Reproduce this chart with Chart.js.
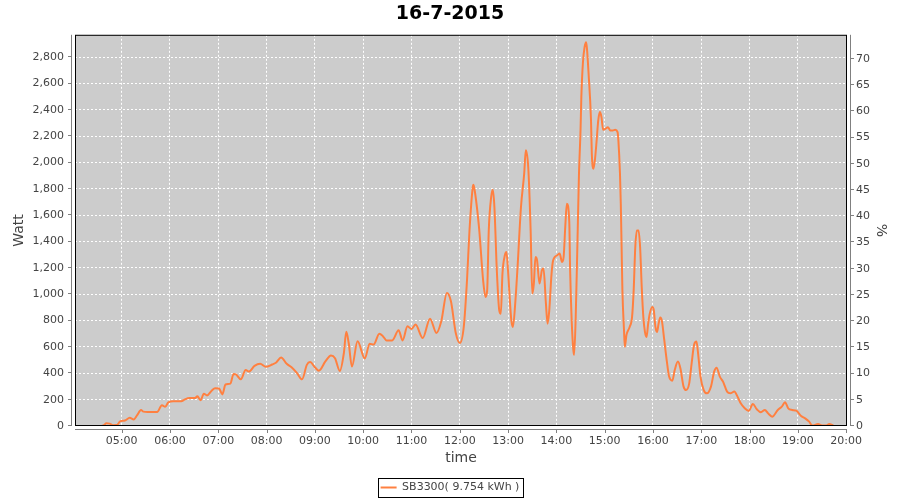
<!DOCTYPE html>
<html>
<head>
<meta charset="utf-8">
<title>16-7-2015</title>
<script src="https://cdn.jsdelivr.net/npm/chart.js@4.4.0/dist/chart.umd.min.js"></script>
<style>
    html, body { margin: 0; padding: 0; background: #fff; }
</style>
</head>
<body>
<canvas id="myChart" width="900" height="500"></canvas>
<script>
const chartTitle = "16-7-2015";
const seriesName = "SB3300( 9.754 kWh )";

// sample times (hh:mm) and power in Watt, grouped by hour
const times = [
    "04:19","04:25","04:32","04:38","04:41","04:45","04:49","04:54","04:58",
    "05:04","05:10","05:15","05:19","05:24","05:27","05:32","05:38","05:44","05:50","05:54","05:58",
    "06:04","06:14","06:18","06:24","06:31","06:34","06:38","06:42","06:46","06:52","06:56",
    "07:01","07:05","07:09","07:15","07:19","07:22","07:28","07:34","07:38","07:45","07:52","07:59",
    "08:07","08:12","08:18","08:25","08:31","08:38","08:44","08:50","08:54",
    "09:00","09:05","09:13","09:20","09:25","09:31","09:36","09:39","09:42","09:46","09:53",
    "10:02","10:08","10:13","10:20","10:24","10:29","10:36","10:44","10:49","10:55",
    "11:00","11:05","11:14","11:23","11:31","11:37","11:44","11:49","11:55",
    "12:00","12:05","12:09","12:12","12:16","12:17","12:19","12:24","12:29","12:32","12:34","12:36","12:39","12:41","12:43","12:46","12:49","12:51","12:53","12:56","12:58",
    "13:00","13:04","13:06","13:09","13:12","13:16","13:20","13:22","13:25","13:28","13:30","13:32","13:34","13:36","13:39","13:42","13:44","13:47","13:49","13:51","13:54","13:56",
    "14:01","14:04","14:07","14:09","14:11","14:13","14:16","14:17","14:19","14:21","14:22","14:24","14:26","14:28","14:30","14:31","14:33","14:35","14:37","14:38","14:40","14:43","14:44","14:46","14:48","14:50","14:52","14:54","14:56","14:58",
    "15:01","15:04","15:07","15:10","15:13","15:16","15:17","15:19","15:20","15:21","15:22","15:24","15:25","15:27","15:31","15:34","15:36","15:38","15:40","15:42","15:44","15:46","15:48","15:50","15:52","15:54","15:56","15:59",
    "16:01","16:03","16:05","16:07","16:09","16:11","16:14","16:17","16:20","16:24","16:27","16:31","16:34","16:38","16:41","16:45","16:48","16:51","16:54","16:56","16:59",
    "17:03","17:07","17:12","17:16","17:19","17:23","17:27","17:32","17:36","17:41","17:45","17:49","17:54","17:59",
    "18:04","18:09","18:14","18:19","18:23","18:28","18:35","18:40","18:44","18:48","18:53","18:58",
    "19:04","19:09","19:14","19:18","19:25","19:31","19:35","19:39","19:44"
];
const watts = [
    0,0,0,7,20,18,6,7,35,
    42,62,50,80,121,109,106,106,106,158,146,180,
    188,188,200,212,212,225,195,245,232,270,287,
    285,240,315,322,395,392,354,426,413,456,472,449,
    467,482,520,472,446,400,354,464,485,
    446,420,490,536,515,418,554,715,630,451,644,
    512,625,618,700,686,650,650,726,650,757,
    737,770,668,815,706,795,1010,947,706,
    630,757,1111,1478,1807,1832,1769,1500,1106,980,1030,1486,1739,1794,1663,1182,879,853,1157,1296,1321,
    1170,803,752,942,1233,1663,1916,2093,1966,1486,1005,1081,1283,1258,1081,1182,1195,929,777,866,1157,1258,
    1296,1309,1245,1283,1511,1688,1550,1200,800,580,540,828,1350,1900,2250,2500,2762,2876,2914,2863,2674,2320,2067,1953,2029,2168,2320,2383,2345,2249,
    2256,2269,2244,2244,2249,2231,2168,1915,1688,1359,1030,727,601,690,752,828,1030,1359,1485,1485,1359,1056,828,714,676,778,853,904,
    879,752,714,778,823,800,653,501,375,344,425,489,438,299,273,324,476,615,641,552,375,
    273,248,299,413,443,375,337,261,248,261,223,172,134,114,
    167,127,104,122,96,71,122,147,180,134,122,116,
    76,58,33,3,15,3,3,15,3
];

const hourTicks = ["05:00","06:00","07:00","08:00","09:00","10:00","11:00","12:00",
                   "13:00","14:00","15:00","16:00","17:00","18:00","19:00","20:00"];
const wattTicks = [0,200,400,600,800,1000,1200,1400,1600,1800,2000,2200,2400,2600,2800];
const percentTicks = [0,5,10,15,20,25,30,35,40,45,50,55,60,65,70];
const timeRange = ["04:02","20:01"];
const wattMax = 2970;
const percentMax = 74.6;

const lineColor = "rgb(255,128,64)";
const textColor = "#444444";
const fontFamily = "'DejaVu Sans', sans-serif";

function toMin(s) {
    let p = s.split(":");
    return parseInt(p[0]) * 60 + parseInt(p[1]);
}
function minLabel(v) {
    let h = Math.floor(v / 60), m = v % 60;
    return (h < 10 ? "0" : "") + h + ":" + (m < 10 ? "0" : "") + m;
}

// grey plot background, black outline, offset grey axis lines, legend frame
const frame = {
    id: "frame",
    afterLayout(chart) {
        chart.legend.top += 3;
        chart.legend.bottom += 3;
    },
    beforeDraw(chart) {
        let ctx = chart.ctx, a = chart.chartArea;
        ctx.save();
        ctx.fillStyle = "#cccccc";
        ctx.fillRect(a.left, a.top, a.right - a.left, a.bottom - a.top);
        ctx.restore();
    },
    afterDraw(chart) {
        let ctx = chart.ctx, a = chart.chartArea, s = chart.scales;
        ctx.save();
        ctx.strokeStyle = "#000";
        ctx.lineWidth = 1;
        ctx.strokeRect(a.left + 0.5, a.top + 0.5, a.right - a.left - 1, a.bottom - a.top - 1);

        ctx.strokeStyle = "#808080";
        ctx.beginPath();
        // left axis
        ctx.moveTo(a.left - 3.5, a.top);
        ctx.lineTo(a.left - 3.5, a.bottom);
        wattTicks.forEach(function(v) {
            let y = Math.round(s.y.getPixelForValue(v)) - 0.5;
            ctx.moveTo(a.left - 3.5, y);
            ctx.lineTo(a.left - 7, y);
        });
        // right axis
        ctx.moveTo(a.right + 3.5, a.top);
        ctx.lineTo(a.right + 3.5, a.bottom);
        percentTicks.forEach(function(v) {
            let y = Math.round(s.y1.getPixelForValue(v)) - 0.5;
            ctx.moveTo(a.right + 3.5, y);
            ctx.lineTo(a.right + 7, y);
        });
        // bottom axis
        ctx.moveTo(a.left, a.bottom + 3.5);
        ctx.lineTo(a.right, a.bottom + 3.5);
        hourTicks.forEach(function(h) {
            let x = Math.round(s.x.getPixelForValue(toMin(h))) + 0.5;
            ctx.moveTo(x, a.bottom + 3.5);
            ctx.lineTo(x, a.bottom + 7);
        });
        ctx.stroke();

        // legend border
        let hb = chart.legend.legendHitBoxes[0];
        if (hb) {
            ctx.strokeStyle = "#000";
            ctx.strokeRect(Math.round(hb.left - 3) + 0.5, Math.round(hb.top - 4) + 0.5,
                           Math.round(hb.width + 6), Math.round(hb.height + 8));
        }
        ctx.restore();
    }
};

let points = times.map(function(t, i) {
    return { x: toMin(t), y: watts[i] };
});

new Chart(document.getElementById("myChart"), {
    type: "line",
    data: {
        datasets: [{
            label: seriesName,
            data: points,
            borderColor: lineColor,
            backgroundColor: lineColor,
            borderWidth: 2,
            pointRadius: 0,
            cubicInterpolationMode: "monotone",
            fill: false,
            yAxisID: "y"
        }]
    },
    options: {
        responsive: false,
        animation: false,
        layout: { padding: 0 },
        scales: {
            x: {
                type: "linear",
                min: toMin(timeRange[0]),
                max: toMin(timeRange[1]),
                afterBuildTicks: function(scale) {
                    scale.ticks = hourTicks.map(function(h) { return { value: toMin(h) }; });
                },
                afterFit: function(scale) { scale.height = 47; },
                ticks: {
                    autoSkip: false,
                    maxRotation: 0,
                    padding: 9,
                    color: textColor,
                    font: { family: fontFamily, size: 11 },
                    callback: function(v) { return minLabel(v); }
                },
                grid: { color: "#ffffff", lineWidth: 1, drawTicks: false },
                border: { display: false, dash: [2, 2] },
                title: {
                    display: true,
                    text: "time",
                    color: textColor,
                    font: { family: fontFamily, size: 14 },
                    padding: { top: 0, bottom: 6 }
                }
            },
            y: {
                position: "left",
                min: 0,
                max: wattMax,
                afterBuildTicks: function(scale) {
                    scale.ticks = wattTicks.map(function(v) { return { value: v }; });
                },
                afterFit: function(scale) { scale.width = 75; },
                ticks: {
                    padding: 11,
                    color: textColor,
                    font: { family: fontFamily, size: 11 },
                    callback: function(v) { return v.toLocaleString("en-US"); }
                },
                grid: { color: "#ffffff", lineWidth: 1, drawTicks: false },
                border: { display: false, dash: [2, 2] },
                title: {
                    display: true,
                    text: "Watt",
                    color: textColor,
                    font: { family: fontFamily, size: 14 },
                    padding: { top: 11, bottom: 0 }
                }
            },
            y1: {
                position: "right",
                display: true,
                min: 0,
                max: percentMax,
                afterBuildTicks: function(scale) {
                    scale.ticks = percentTicks.map(function(v) { return { value: v }; });
                },
                afterFit: function(scale) { scale.width = 53; },
                ticks: {
                    padding: 9,
                    color: textColor,
                    font: { family: fontFamily, size: 11 }
                },
                grid: { drawOnChartArea: false, drawTicks: false },
                border: { display: false },
                title: {
                    display: true,
                    text: "%",
                    color: textColor,
                    font: { family: fontFamily, size: 14 },
                    padding: { top: 11, bottom: 0 }
                }
            }
        },
        plugins: {
            title: {
                display: true,
                text: chartTitle,
                color: "#000",
                font: { family: fontFamily, size: 19, weight: "bold" },
                padding: { top: 3, bottom: 9 }
            },
            legend: {
                position: "bottom",
                labels: {
                    color: textColor,
                    font: { family: fontFamily, size: 11 },
                    boxWidth: 16,
                    boxHeight: 2,
                    padding: 6,
                    generateLabels: function(chart) {
                        return Chart.defaults.plugins.legend.labels.generateLabels(chart).map(function(l) {
                            l.lineWidth = 0;
                            l.fillStyle = lineColor;
                            return l;
                        });
                    }
                }
            },
            tooltip: { enabled: false }
        }
    },
    plugins: [frame]
});
</script>
</body>
</html>
